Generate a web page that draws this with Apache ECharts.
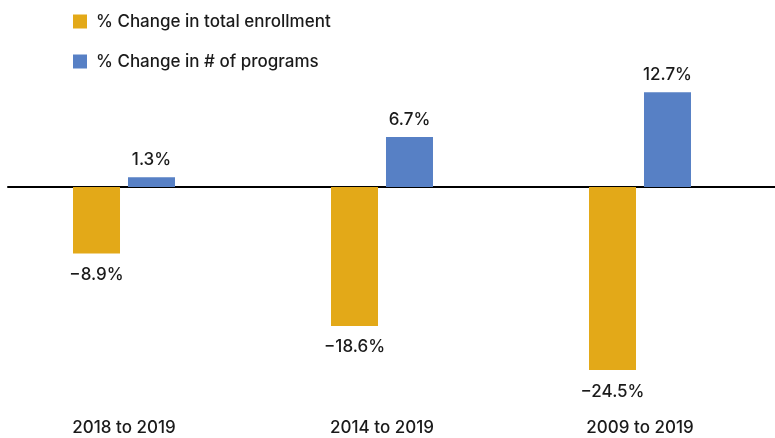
<!DOCTYPE html>
<html>
<head>
<meta charset="utf-8">
<script src="https://cdn.jsdelivr.net/npm/echarts@6/dist/echarts.min.js"></script>
<style>
  html, body { margin: 0; padding: 0; background: #fff; }
  #chart { width: 775px; height: 438px; }
</style>
</head>
<body>
<div id="chart"></div>
<script>
// Periods compared and the percentage change over each
const categories = ['2018 to 2019', '2014 to 2019', '2009 to 2019'];
const enrollmentChange = [-8.9, -18.6, -24.5];
const programChange = [1.3, 6.7, 12.7];
const seriesNames = ['% Change in total enrollment', '% Change in # of programs'];

const FONT = 'Inter, sans-serif';
const WEIGHT = 500;
const SIZE = 17;
const TEXT = '#1a1a1a';
const Y_MIN = -30, Y_MAX = 15;
const gridTop = 75, gridBottom = 27;

const pct = v => (v < 0 ? '\u2212' + Math.abs(v).toFixed(1) : v.toFixed(1)) + '%';

const chart = echarts.init(document.getElementById('chart'));
chart.setOption({
  animation: false,
  textStyle: { fontFamily: FONT, color: TEXT },
  legend: {
    orient: 'vertical',
    left: 68,
    top: 8,
    itemWidth: 14,
    itemHeight: 14,
    itemGap: 23,
    icon: 'rect',
    textStyle: { fontFamily: FONT, fontWeight: WEIGHT, fontSize: SIZE, color: TEXT, lineHeight: 14, padding: [0, 0, 0, 4] },
    data: seriesNames
  },
  grid: [
    { left: -5, right: 6, top: gridTop, bottom: gridBottom, outerBoundsMode: 'none' },
    { left: 8, right: 0, top: gridTop, bottom: gridBottom, outerBoundsMode: 'none' }
  ],
  xAxis: [
    {
      type: 'category',
      gridIndex: 0,
      data: categories,
      position: 'bottom',
      axisLine: { show: false, onZero: false },
      axisTick: { show: false },
      axisLabel: { fontFamily: FONT, fontWeight: WEIGHT, fontSize: SIZE, color: TEXT, margin: 8 }
    },
    {
      type: 'category',
      gridIndex: 1,
      data: categories,
      axisLine: { show: true, onZero: true, lineStyle: { color: '#000', width: 2 } },
      axisTick: { show: false },
      axisLabel: { show: false }
    }
  ],
  yAxis: [
    { type: 'value', gridIndex: 0, min: Y_MIN, max: Y_MAX, show: false },
    { type: 'value', gridIndex: 1, min: Y_MIN, max: Y_MAX, show: false }
  ],
  series: [
    {
      name: seriesNames[0],
      type: 'bar',
      xAxisIndex: 0,
      yAxisIndex: 0,
      data: enrollmentChange,
      barWidth: 47,
      barGap: '17%',
      itemStyle: { color: '#E3A918' },
      label: {
        show: true,
        position: 'bottom',
        distance: 13,
        fontFamily: FONT,
        fontWeight: WEIGHT,
        fontSize: SIZE,
        color: TEXT,
        formatter: p => pct(p.value)
      }
    },
    {
      name: seriesNames[1],
      type: 'bar',
      xAxisIndex: 0,
      yAxisIndex: 0,
      data: programChange,
      barWidth: 47,
      barGap: '17%',
      itemStyle: { color: '#5780C5' },
      label: {
        show: true,
        position: 'top',
        distance: 9,
        fontFamily: FONT,
        fontWeight: WEIGHT,
        fontSize: SIZE,
        color: TEXT,
        formatter: p => pct(p.value)
      }
    }
  ]
});
</script>
</body>
</html>
